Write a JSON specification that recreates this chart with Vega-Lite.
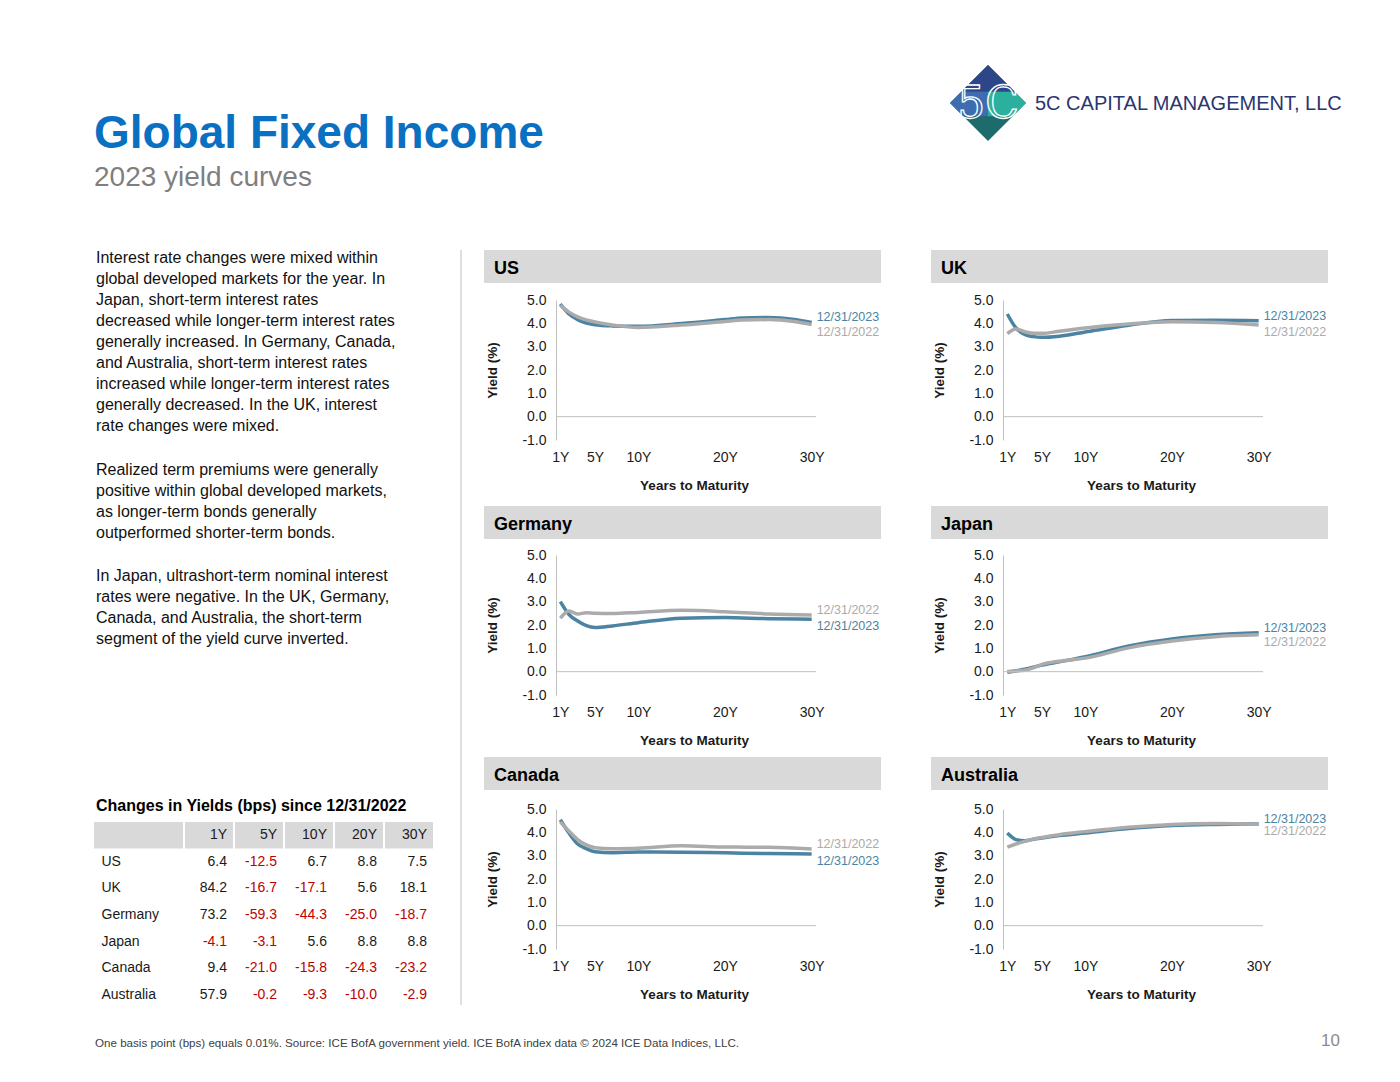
{
"$schema": "https://vega.github.io/schema/vega-lite/v6.json",
"background": "white",
"padding": {"left": 94, "top": 65, "right": 0, "bottom": 0},
"config": {
  "view": {"stroke": null},
  "font": "Liberation Sans",
  "title": {"font": "Liberation Sans", "subtitleFont": "Liberation Sans", "color": "#000000", "fontSize": 18, "fontWeight": "bold", "anchor": "start", "frame": "group", "offset": -28, "dx": 10},
  "axis": {"labelFont": "Liberation Sans", "titleFont": "Liberation Sans", "labelColor": "#1a1a1a", "titleColor": "#1a1a1a", "grid": false, "ticks": false, "labelFontSize": 14, "titleFontSize": 13.5, "titleFontWeight": "bold", "labelOverlap": false},
  "axisX": {"domain": false, "labelPadding": 10, "titlePadding": 14, "labelFlush": false, "titleX": 138},
  "axisY": {"domainColor": "#bfbfbf", "domainWidth": 1, "labelPadding": 10, "titlePadding": 22},
  "text": {"font": "Liberation Sans"}
},
"datasets": {
  "curves": [
    {"c":"US","d":"12/31/2023","m":1,"y":4.83},{"c":"US","d":"12/31/2023","m":2,"y":4.40},{"c":"US","d":"12/31/2023","m":3,"y":4.16},{"c":"US","d":"12/31/2023","m":4,"y":4.01},{"c":"US","d":"12/31/2023","m":5,"y":3.94},{"c":"US","d":"12/31/2023","m":7,"y":3.89},{"c":"US","d":"12/31/2023","m":10,"y":3.87},{"c":"US","d":"12/31/2023","m":15,"y":3.99},{"c":"US","d":"12/31/2023","m":20,"y":4.16},{"c":"US","d":"12/31/2023","m":22,"y":4.23},{"c":"US","d":"12/31/2023","m":25,"y":4.25},{"c":"US","d":"12/31/2023","m":28,"y":4.17},{"c":"US","d":"12/31/2023","m":30,"y":4.04},
    {"c":"US","d":"12/31/2022","m":1,"y":4.77},{"c":"US","d":"12/31/2022","m":2,"y":4.48},{"c":"US","d":"12/31/2022","m":3,"y":4.28},{"c":"US","d":"12/31/2022","m":4,"y":4.15},{"c":"US","d":"12/31/2022","m":5,"y":4.06},{"c":"US","d":"12/31/2022","m":7,"y":3.93},{"c":"US","d":"12/31/2022","m":10,"y":3.82},{"c":"US","d":"12/31/2022","m":15,"y":3.93},{"c":"US","d":"12/31/2022","m":20,"y":4.08},{"c":"US","d":"12/31/2022","m":22,"y":4.14},{"c":"US","d":"12/31/2022","m":25,"y":4.16},{"c":"US","d":"12/31/2022","m":28,"y":4.08},{"c":"US","d":"12/31/2022","m":30,"y":3.95},
    {"c":"UK","d":"12/31/2023","m":1,"y":4.40},{"c":"UK","d":"12/31/2023","m":2,"y":3.80},{"c":"UK","d":"12/31/2023","m":3,"y":3.52},{"c":"UK","d":"12/31/2023","m":4,"y":3.43},{"c":"UK","d":"12/31/2023","m":5,"y":3.40},{"c":"UK","d":"12/31/2023","m":7,"y":3.45},{"c":"UK","d":"12/31/2023","m":10,"y":3.63},{"c":"UK","d":"12/31/2023","m":15,"y":3.92},{"c":"UK","d":"12/31/2023","m":20,"y":4.12},{"c":"UK","d":"12/31/2023","m":25,"y":4.13},{"c":"UK","d":"12/31/2023","m":30,"y":4.11},
    {"c":"UK","d":"12/31/2022","m":1,"y":3.56},{"c":"UK","d":"12/31/2022","m":2,"y":3.76},{"c":"UK","d":"12/31/2022","m":3,"y":3.64},{"c":"UK","d":"12/31/2022","m":4,"y":3.58},{"c":"UK","d":"12/31/2022","m":5,"y":3.57},{"c":"UK","d":"12/31/2022","m":7,"y":3.66},{"c":"UK","d":"12/31/2022","m":10,"y":3.80},{"c":"UK","d":"12/31/2022","m":15,"y":3.97},{"c":"UK","d":"12/31/2022","m":20,"y":4.07},{"c":"UK","d":"12/31/2022","m":25,"y":4.04},{"c":"UK","d":"12/31/2022","m":30,"y":3.93},
    {"c":"Germany","d":"12/31/2023","m":1,"y":3.00},{"c":"Germany","d":"12/31/2023","m":2,"y":2.45},{"c":"Germany","d":"12/31/2023","m":3,"y":2.17},{"c":"Germany","d":"12/31/2023","m":4,"y":1.97},{"c":"Germany","d":"12/31/2023","m":5,"y":1.89},{"c":"Germany","d":"12/31/2023","m":7,"y":1.96},{"c":"Germany","d":"12/31/2023","m":10,"y":2.10},{"c":"Germany","d":"12/31/2023","m":15,"y":2.29},{"c":"Germany","d":"12/31/2023","m":20,"y":2.32},{"c":"Germany","d":"12/31/2023","m":25,"y":2.27},{"c":"Germany","d":"12/31/2023","m":30,"y":2.25},
    {"c":"Germany","d":"12/31/2022","m":1,"y":2.29},{"c":"Germany","d":"12/31/2022","m":2,"y":2.60},{"c":"Germany","d":"12/31/2022","m":3,"y":2.47},{"c":"Germany","d":"12/31/2022","m":4,"y":2.53},{"c":"Germany","d":"12/31/2022","m":5,"y":2.50},{"c":"Germany","d":"12/31/2022","m":7,"y":2.49},{"c":"Germany","d":"12/31/2022","m":10,"y":2.54},{"c":"Germany","d":"12/31/2022","m":15,"y":2.63},{"c":"Germany","d":"12/31/2022","m":20,"y":2.57},{"c":"Germany","d":"12/31/2022","m":25,"y":2.47},{"c":"Germany","d":"12/31/2022","m":30,"y":2.43},
    {"c":"Japan","d":"12/31/2023","m":1,"y":-0.03},{"c":"Japan","d":"12/31/2023","m":2,"y":0.04},{"c":"Japan","d":"12/31/2023","m":3,"y":0.10},{"c":"Japan","d":"12/31/2023","m":4,"y":0.19},{"c":"Japan","d":"12/31/2023","m":5,"y":0.28},{"c":"Japan","d":"12/31/2023","m":7,"y":0.42},{"c":"Japan","d":"12/31/2023","m":10,"y":0.64},{"c":"Japan","d":"12/31/2023","m":15,"y":1.10},{"c":"Japan","d":"12/31/2023","m":20,"y":1.40},{"c":"Japan","d":"12/31/2023","m":25,"y":1.58},{"c":"Japan","d":"12/31/2023","m":30,"y":1.67},
    {"c":"Japan","d":"12/31/2022","m":1,"y":0.01},{"c":"Japan","d":"12/31/2022","m":2,"y":0.03},{"c":"Japan","d":"12/31/2022","m":3,"y":0.06},{"c":"Japan","d":"12/31/2022","m":4,"y":0.16},{"c":"Japan","d":"12/31/2022","m":5,"y":0.31},{"c":"Japan","d":"12/31/2022","m":7,"y":0.45},{"c":"Japan","d":"12/31/2022","m":10,"y":0.58},{"c":"Japan","d":"12/31/2022","m":15,"y":1.02},{"c":"Japan","d":"12/31/2022","m":20,"y":1.31},{"c":"Japan","d":"12/31/2022","m":25,"y":1.50},{"c":"Japan","d":"12/31/2022","m":30,"y":1.58},
    {"c":"Canada","d":"12/31/2023","m":1,"y":4.54},{"c":"Canada","d":"12/31/2023","m":2,"y":3.97},{"c":"Canada","d":"12/31/2023","m":3,"y":3.50},{"c":"Canada","d":"12/31/2023","m":4,"y":3.30},{"c":"Canada","d":"12/31/2023","m":5,"y":3.17},{"c":"Canada","d":"12/31/2023","m":7,"y":3.13},{"c":"Canada","d":"12/31/2023","m":10,"y":3.16},{"c":"Canada","d":"12/31/2023","m":15,"y":3.15},{"c":"Canada","d":"12/31/2023","m":20,"y":3.12},{"c":"Canada","d":"12/31/2023","m":25,"y":3.09},{"c":"Canada","d":"12/31/2023","m":30,"y":3.07},
    {"c":"Canada","d":"12/31/2022","m":1,"y":4.45},{"c":"Canada","d":"12/31/2022","m":2,"y":4.05},{"c":"Canada","d":"12/31/2022","m":3,"y":3.69},{"c":"Canada","d":"12/31/2022","m":4,"y":3.46},{"c":"Canada","d":"12/31/2022","m":5,"y":3.34},{"c":"Canada","d":"12/31/2022","m":7,"y":3.30},{"c":"Canada","d":"12/31/2022","m":10,"y":3.32},{"c":"Canada","d":"12/31/2022","m":15,"y":3.42},{"c":"Canada","d":"12/31/2022","m":20,"y":3.37},{"c":"Canada","d":"12/31/2022","m":25,"y":3.36},{"c":"Canada","d":"12/31/2022","m":30,"y":3.29},
    {"c":"Australia","d":"12/31/2023","m":1,"y":3.97},{"c":"Australia","d":"12/31/2023","m":2,"y":3.69},{"c":"Australia","d":"12/31/2023","m":3,"y":3.64},{"c":"Australia","d":"12/31/2023","m":4,"y":3.70},{"c":"Australia","d":"12/31/2023","m":5,"y":3.76},{"c":"Australia","d":"12/31/2023","m":7,"y":3.86},{"c":"Australia","d":"12/31/2023","m":10,"y":3.97},{"c":"Australia","d":"12/31/2023","m":15,"y":4.16},{"c":"Australia","d":"12/31/2023","m":20,"y":4.29},{"c":"Australia","d":"12/31/2023","m":25,"y":4.34},{"c":"Australia","d":"12/31/2023","m":30,"y":4.36},
    {"c":"Australia","d":"12/31/2022","m":1,"y":3.37},{"c":"Australia","d":"12/31/2022","m":2,"y":3.50},{"c":"Australia","d":"12/31/2022","m":3,"y":3.61},{"c":"Australia","d":"12/31/2022","m":4,"y":3.71},{"c":"Australia","d":"12/31/2022","m":5,"y":3.78},{"c":"Australia","d":"12/31/2022","m":7,"y":3.90},{"c":"Australia","d":"12/31/2022","m":10,"y":4.03},{"c":"Australia","d":"12/31/2022","m":15,"y":4.22},{"c":"Australia","d":"12/31/2022","m":20,"y":4.34},{"c":"Australia","d":"12/31/2022","m":25,"y":4.38},{"c":"Australia","d":"12/31/2022","m":30,"y":4.35}
  ],
  "changes": [
    {"c":"US","k":"1Y","v":6.4},{"c":"US","k":"5Y","v":-12.5},{"c":"US","k":"10Y","v":6.7},{"c":"US","k":"20Y","v":8.8},{"c":"US","k":"30Y","v":7.5},
    {"c":"UK","k":"1Y","v":84.2},{"c":"UK","k":"5Y","v":-16.7},{"c":"UK","k":"10Y","v":-17.1},{"c":"UK","k":"20Y","v":5.6},{"c":"UK","k":"30Y","v":18.1},
    {"c":"Germany","k":"1Y","v":73.2},{"c":"Germany","k":"5Y","v":-59.3},{"c":"Germany","k":"10Y","v":-44.3},{"c":"Germany","k":"20Y","v":-25.0},{"c":"Germany","k":"30Y","v":-18.7},
    {"c":"Japan","k":"1Y","v":-4.1},{"c":"Japan","k":"5Y","v":-3.1},{"c":"Japan","k":"10Y","v":5.6},{"c":"Japan","k":"20Y","v":8.8},{"c":"Japan","k":"30Y","v":8.8},
    {"c":"Canada","k":"1Y","v":9.4},{"c":"Canada","k":"5Y","v":-21.0},{"c":"Canada","k":"10Y","v":-15.8},{"c":"Canada","k":"20Y","v":-24.3},{"c":"Canada","k":"30Y","v":-23.2},
    {"c":"Australia","k":"1Y","v":57.9},{"c":"Australia","k":"5Y","v":-0.2},{"c":"Australia","k":"10Y","v":-9.3},{"c":"Australia","k":"20Y","v":-10.0},{"c":"Australia","k":"30Y","v":-2.9}
  ]
},
"spacing": 24,
"vconcat": [
  {"spacing": 0, "hconcat": [
    {"width": 856, "height": 160, "data": {"values": []}, "mark": "point",
     "title": {"text": "Global Fixed Income", "subtitle": "2023 yield curves", "orient": "bottom", "anchor": "start", "offset": -113, "dx": 0, "fontSize": 46, "fontWeight": "bold", "color": "#0a70c2", "subtitleFontSize": 28, "subtitleColor": "#7f7f7f", "subtitlePadding": 6}},
    {"width": 76, "height": 76, "data": {"values": [{"n": "5C CAPITAL MANAGEMENT, LLC"}]},
     "layer": [
       {"mark": {"type": "point", "shape": "diamond", "size": 5776, "filled": true, "color": "#1d6b6a", "opacity": 1, "strokeWidth": 0}},
       {"mark": {"type": "point", "shape": "M-1,0L-0.7,-0.3L0,-0.3L0,0.35L-0.65,0.35Z", "size": 5776, "filled": true, "color": "#3d6db0", "opacity": 1, "strokeWidth": 0}},
       {"mark": {"type": "point", "shape": "M0,-0.3L0.7,-0.3L1,0L0.65,0.35L0,0.35Z", "size": 5776, "filled": true, "color": "#2bb09d", "opacity": 1, "strokeWidth": 0}},
       {"mark": {"type": "point", "shape": "M-0.7,-0.3L0,-1L0.7,-0.3Z", "size": 5776, "filled": true, "color": "#2c4687", "opacity": 1, "strokeWidth": 0}},
       {"mark": {"type": "text", "text": "5C", "font": "DejaVu Serif", "fontSize": 44, "fill": "transparent", "stroke": "white", "strokeWidth": 1.3, "baseline": "middle", "dy": 2}},
       {"mark": {"type": "text", "align": "left", "baseline": "middle", "dx": 47, "dy": 1, "fontSize": 20, "color": "#2b3570"}, "encoding": {"text": {"field": "n"}}}
     ]}
  ]},
  {"spacing": 0, "hconcat": [
    {"spacing": 0, "vconcat": [
      {"width": 339, "height": 212, "data": {"values": []}, "mark": "point",
       "title": {"text": ["Interest rate changes were mixed within", "global developed markets for the year. In", "Japan, short-term interest rates", "decreased while longer-term interest rates", "generally increased. In Germany, Canada,", "and Australia, short-term interest rates", "increased while longer-term interest rates", "generally decreased. In the UK, interest", "rate changes were mixed."], "orient": "bottom", "anchor": "start", "offset": -212, "dx": 2, "fontSize": 16, "fontWeight": "normal", "lineHeight": 21, "color": "#111111"}},
      {"width": 339, "height": 106, "data": {"values": []}, "mark": "point",
       "title": {"text": ["Realized term premiums were generally", "positive within global developed markets,", "as longer-term bonds generally", "outperformed shorter-term bonds."], "orient": "bottom", "anchor": "start", "offset": -106, "dx": 2, "fontSize": 16, "fontWeight": "normal", "lineHeight": 21, "color": "#111111"}},
      {"width": 339, "height": 223, "data": {"values": []}, "mark": "point",
       "title": {"text": ["In Japan, ultrashort-term nominal interest", "rates were negative. In the UK, Germany,", "Canada, and Australia, the short-term", "segment of the yield curve inverted."], "orient": "bottom", "anchor": "start", "offset": -223, "dx": 2, "fontSize": 16, "fontWeight": "normal", "lineHeight": 21, "color": "#111111"}},
      {"width": 339, "height": 31, "data": {"values": []}, "mark": "point",
       "title": {"text": "Changes in Yields (bps) since 12/31/2022", "orient": "bottom", "anchor": "start", "offset": -24, "dx": 2, "fontSize": 16, "fontWeight": "bold", "color": "#000000"}},
      {"spacing": 2, "hconcat": [
        {"width": 89, "height": 186, "data": {"values": [{"r": "hdr"}]},
         "mark": {"type": "rect", "color": "#d9d9d9"},
         "encoding": {"y": {"field": "r", "type": "nominal", "scale": {"domain": ["hdr", "US", "UK", "Germany", "Japan", "Canada", "Australia"], "paddingInner": 0, "paddingOuter": 0},
           "axis": {"title": null, "domain": false, "ticks": false, "labelPadding": -7, "labelAlign": "left", "labelExpr": "datum.value == 'hdr' ? '' : datum.value", "labelFontSize": 14, "labelColor": "#1a1a1a"}}}},
        {"width": 248, "height": 186,
         "layer": [
           {"data": {"values": [{"k": "1Y", "r": "hdr"}, {"k": "5Y", "r": "hdr"}, {"k": "10Y", "r": "hdr"}, {"k": "20Y", "r": "hdr"}, {"k": "30Y", "r": "hdr"}]},
            "layer": [
              {"mark": {"type": "rect", "color": "#d9d9d9"},
               "encoding": {"x": {"field": "k", "type": "nominal", "scale": {"domain": ["1Y", "5Y", "10Y", "20Y", "30Y"], "paddingInner": 0.04, "paddingOuter": 0}, "axis": null},
                            "y": {"field": "r", "type": "nominal", "scale": {"domain": ["hdr", "US", "UK", "Germany", "Japan", "Canada", "Australia"], "paddingInner": 0, "paddingOuter": 0}, "axis": null}}},
              {"mark": {"type": "text", "align": "right", "baseline": "middle", "dx": -6, "fontSize": 14, "color": "#1a1a1a"},
               "encoding": {"x": {"field": "k", "type": "nominal", "bandPosition": 1, "axis": null},
                            "y": {"field": "r", "type": "nominal", "axis": null},
                            "text": {"field": "k"}}}
            ]},
           {"data": {"name": "changes"},
            "transform": [{"calculate": "replace(format(datum.v, '.1f'), '\u2212', '-')", "as": "t"}],
            "mark": {"type": "text", "align": "right", "baseline": "middle", "dx": -6, "fontSize": 14},
            "encoding": {"x": {"field": "k", "type": "nominal", "bandPosition": 1, "axis": null},
                         "y": {"field": "c", "type": "nominal", "axis": null},
                         "text": {"field": "t"},
                         "color": {"condition": {"test": "datum.v < 0", "value": "#c00000"}, "value": "#1a1a1a"}}}
         ]}
      ]}
    ]},
    {"width": 27, "height": 1, "data": {"values": []}, "mark": "point"},
    {"width": 1, "height": 755, "data": {"values": [{}]}, "mark": {"type": "rule", "color": "#bfbfbf", "strokeWidth": 1}, "encoding": {"x": {"value": 0}}},
    {"width": 22, "height": 1, "data": {"values": []}, "mark": "point"},
    {"spacing": 14, "vconcat": [
      {"spacing": 50, "hconcat": [
        {"spacing": 10, "vconcat": [
          {"width": 397, "height": 33, "view": {"fill": "#d9d9d9", "stroke": null}, "data": {"values": []}, "mark": "point", "title": {"text": "US"}},
          {"spacing": 0, "hconcat": [
            {"width": 1, "height": 140, "data": {"values": []}, "mark": "point"},
            {"width": 260, "height": 140, "data": {"name": "curves"}, "transform": [{"filter": "datum.c == 'US'"}],
             "layer": [
               {"mark": {"type": "line", "strokeWidth": 3.5, "interpolate": "monotone"},
                "encoding": {"x": {"field": "m", "type": "quantitative", "scale": {"domain": [0.5, 30.5], "nice": false, "zero": false}, "axis": {"values": [1, 5, 10, 20, 30], "labelExpr": "datum.value + 'Y'", "title": "Years to Maturity", "labelOverlap": false}},
                             "y": {"field": "y", "type": "quantitative", "scale": {"domain": [-1, 5], "nice": false, "zero": false}, "axis": {"values": [-1, 0, 1, 2, 3, 4, 5], "labelExpr": "replace(format(datum.value, '.1f'), '\u2212', '-')", "title": "Yield (%)", "labelOverlap": false}},
                             "color": {"field": "d", "type": "nominal", "scale": {"domain": ["12/31/2023", "12/31/2022"], "range": ["#4b83a3", "#ababab"]}, "legend": null}}},
               {"data": {"values": [{}]}, "mark": {"type": "rule", "color": "#bfbfbf", "strokeWidth": 1}, "encoding": {"y": {"datum": 0, "type": "quantitative", "axis": {"values": [-1, 0, 1, 2, 3, 4, 5], "labelExpr": "replace(format(datum.value, '.1f'), '\u2212', '-')", "title": "Yield (%)", "labelOverlap": false}}}},
               {"transform": [{"filter": "datum.m == 30"}, {"joinaggregate": [{"op": "max", "field": "y", "as": "mx"}]}, {"filter": "datum.y == datum.mx"}],
                "mark": {"type": "text", "align": "left", "baseline": "middle", "dx": 5, "dy": -5, "fontSize": 12.5},
                "encoding": {"x": {"field": "m", "type": "quantitative", "axis": {"values": [1, 5, 10, 20, 30], "labelExpr": "datum.value + 'Y'", "title": "Years to Maturity", "labelOverlap": false}}, "y": {"field": "y", "type": "quantitative", "axis": {"values": [-1, 0, 1, 2, 3, 4, 5], "labelExpr": "replace(format(datum.value, '.1f'), '\u2212', '-')", "title": "Yield (%)", "labelOverlap": false}}, "text": {"field": "d"}, "color": {"field": "d", "type": "nominal", "legend": null}}},
               {"transform": [{"filter": "datum.m == 30"}, {"joinaggregate": [{"op": "max", "field": "y", "as": "mx"}]}, {"filter": "datum.y < datum.mx"}],
                "mark": {"type": "text", "align": "left", "baseline": "middle", "dx": 5, "dy": 7, "fontSize": 12.5},
                "encoding": {"x": {"field": "m", "type": "quantitative", "axis": {"values": [1, 5, 10, 20, 30], "labelExpr": "datum.value + 'Y'", "title": "Years to Maturity", "labelOverlap": false}}, "y": {"field": "y", "type": "quantitative", "axis": {"values": [-1, 0, 1, 2, 3, 4, 5], "labelExpr": "replace(format(datum.value, '.1f'), '\u2212', '-')", "title": "Yield (%)", "labelOverlap": false}}, "text": {"field": "d"}, "color": {"field": "d", "type": "nominal", "legend": null}}}
             ]}
          ]}
        ]},
        {"spacing": 10, "vconcat": [
          {"width": 397, "height": 33, "view": {"fill": "#d9d9d9", "stroke": null}, "data": {"values": []}, "mark": "point", "title": {"text": "UK"}},
          {"spacing": 0, "hconcat": [
            {"width": 1, "height": 140, "data": {"values": []}, "mark": "point"},
            {"width": 260, "height": 140, "data": {"name": "curves"}, "transform": [{"filter": "datum.c == 'UK'"}],
             "layer": [
               {"mark": {"type": "line", "strokeWidth": 3.5, "interpolate": "monotone"},
                "encoding": {"x": {"field": "m", "type": "quantitative", "scale": {"domain": [0.5, 30.5], "nice": false, "zero": false}, "axis": {"values": [1, 5, 10, 20, 30], "labelExpr": "datum.value + 'Y'", "title": "Years to Maturity", "labelOverlap": false}},
                             "y": {"field": "y", "type": "quantitative", "scale": {"domain": [-1, 5], "nice": false, "zero": false}, "axis": {"values": [-1, 0, 1, 2, 3, 4, 5], "labelExpr": "replace(format(datum.value, '.1f'), '\u2212', '-')", "title": "Yield (%)", "labelOverlap": false}},
                             "color": {"field": "d", "type": "nominal", "scale": {"domain": ["12/31/2023", "12/31/2022"], "range": ["#4b83a3", "#ababab"]}, "legend": null}}},
               {"data": {"values": [{}]}, "mark": {"type": "rule", "color": "#bfbfbf", "strokeWidth": 1}, "encoding": {"y": {"datum": 0, "type": "quantitative", "axis": {"values": [-1, 0, 1, 2, 3, 4, 5], "labelExpr": "replace(format(datum.value, '.1f'), '\u2212', '-')", "title": "Yield (%)", "labelOverlap": false}}}},
               {"transform": [{"filter": "datum.m == 30"}, {"joinaggregate": [{"op": "max", "field": "y", "as": "mx"}]}, {"filter": "datum.y == datum.mx"}],
                "mark": {"type": "text", "align": "left", "baseline": "middle", "dx": 5, "dy": -5, "fontSize": 12.5},
                "encoding": {"x": {"field": "m", "type": "quantitative", "axis": {"values": [1, 5, 10, 20, 30], "labelExpr": "datum.value + 'Y'", "title": "Years to Maturity", "labelOverlap": false}}, "y": {"field": "y", "type": "quantitative", "axis": {"values": [-1, 0, 1, 2, 3, 4, 5], "labelExpr": "replace(format(datum.value, '.1f'), '\u2212', '-')", "title": "Yield (%)", "labelOverlap": false}}, "text": {"field": "d"}, "color": {"field": "d", "type": "nominal", "legend": null}}},
               {"transform": [{"filter": "datum.m == 30"}, {"joinaggregate": [{"op": "max", "field": "y", "as": "mx"}]}, {"filter": "datum.y < datum.mx"}],
                "mark": {"type": "text", "align": "left", "baseline": "middle", "dx": 5, "dy": 7, "fontSize": 12.5},
                "encoding": {"x": {"field": "m", "type": "quantitative", "axis": {"values": [1, 5, 10, 20, 30], "labelExpr": "datum.value + 'Y'", "title": "Years to Maturity", "labelOverlap": false}}, "y": {"field": "y", "type": "quantitative", "axis": {"values": [-1, 0, 1, 2, 3, 4, 5], "labelExpr": "replace(format(datum.value, '.1f'), '\u2212', '-')", "title": "Yield (%)", "labelOverlap": false}}, "text": {"field": "d"}, "color": {"field": "d", "type": "nominal", "legend": null}}}
             ]}
          ]}
        ]}
      ]},
      {"spacing": 10, "vconcat": [
        {"spacing": 50, "hconcat": [
          {"spacing": 9, "vconcat": [
            {"width": 397, "height": 33, "view": {"fill": "#d9d9d9", "stroke": null}, "data": {"values": []}, "mark": "point", "title": {"text": "Germany"}},
            {"spacing": 0, "hconcat": [
              {"width": 1, "height": 140, "data": {"values": []}, "mark": "point"},
              {"width": 260, "height": 140, "data": {"name": "curves"}, "transform": [{"filter": "datum.c == 'Germany'"}],
               "layer": [
                 {"mark": {"type": "line", "strokeWidth": 3.5, "interpolate": "monotone"},
                  "encoding": {"x": {"field": "m", "type": "quantitative", "scale": {"domain": [0.5, 30.5], "nice": false, "zero": false}, "axis": {"values": [1, 5, 10, 20, 30], "labelExpr": "datum.value + 'Y'", "title": "Years to Maturity", "labelOverlap": false}},
                               "y": {"field": "y", "type": "quantitative", "scale": {"domain": [-1, 5], "nice": false, "zero": false}, "axis": {"values": [-1, 0, 1, 2, 3, 4, 5], "labelExpr": "replace(format(datum.value, '.1f'), '\u2212', '-')", "title": "Yield (%)", "labelOverlap": false}},
                               "color": {"field": "d", "type": "nominal", "scale": {"domain": ["12/31/2023", "12/31/2022"], "range": ["#4b83a3", "#ababab"]}, "legend": null}}},
                 {"data": {"values": [{}]}, "mark": {"type": "rule", "color": "#bfbfbf", "strokeWidth": 1}, "encoding": {"y": {"datum": 0, "type": "quantitative", "axis": {"values": [-1, 0, 1, 2, 3, 4, 5], "labelExpr": "replace(format(datum.value, '.1f'), '\u2212', '-')", "title": "Yield (%)", "labelOverlap": false}}}},
                 {"transform": [{"filter": "datum.m == 30"}, {"joinaggregate": [{"op": "max", "field": "y", "as": "mx"}]}, {"filter": "datum.y == datum.mx"}],
                  "mark": {"type": "text", "align": "left", "baseline": "middle", "dx": 5, "dy": -5, "fontSize": 12.5},
                  "encoding": {"x": {"field": "m", "type": "quantitative", "axis": {"values": [1, 5, 10, 20, 30], "labelExpr": "datum.value + 'Y'", "title": "Years to Maturity", "labelOverlap": false}}, "y": {"field": "y", "type": "quantitative", "axis": {"values": [-1, 0, 1, 2, 3, 4, 5], "labelExpr": "replace(format(datum.value, '.1f'), '\u2212', '-')", "title": "Yield (%)", "labelOverlap": false}}, "text": {"field": "d"}, "color": {"field": "d", "type": "nominal", "legend": null}}},
                 {"transform": [{"filter": "datum.m == 30"}, {"joinaggregate": [{"op": "max", "field": "y", "as": "mx"}]}, {"filter": "datum.y < datum.mx"}],
                  "mark": {"type": "text", "align": "left", "baseline": "middle", "dx": 5, "dy": 7, "fontSize": 12.5},
                  "encoding": {"x": {"field": "m", "type": "quantitative", "axis": {"values": [1, 5, 10, 20, 30], "labelExpr": "datum.value + 'Y'", "title": "Years to Maturity", "labelOverlap": false}}, "y": {"field": "y", "type": "quantitative", "axis": {"values": [-1, 0, 1, 2, 3, 4, 5], "labelExpr": "replace(format(datum.value, '.1f'), '\u2212', '-')", "title": "Yield (%)", "labelOverlap": false}}, "text": {"field": "d"}, "color": {"field": "d", "type": "nominal", "legend": null}}}
               ]}
            ]}
          ]},
          {"spacing": 9, "vconcat": [
            {"width": 397, "height": 33, "view": {"fill": "#d9d9d9", "stroke": null}, "data": {"values": []}, "mark": "point", "title": {"text": "Japan"}},
            {"spacing": 0, "hconcat": [
              {"width": 1, "height": 140, "data": {"values": []}, "mark": "point"},
              {"width": 260, "height": 140, "data": {"name": "curves"}, "transform": [{"filter": "datum.c == 'Japan'"}],
               "layer": [
                 {"mark": {"type": "line", "strokeWidth": 3.5, "interpolate": "monotone"},
                  "encoding": {"x": {"field": "m", "type": "quantitative", "scale": {"domain": [0.5, 30.5], "nice": false, "zero": false}, "axis": {"values": [1, 5, 10, 20, 30], "labelExpr": "datum.value + 'Y'", "title": "Years to Maturity", "labelOverlap": false}},
                               "y": {"field": "y", "type": "quantitative", "scale": {"domain": [-1, 5], "nice": false, "zero": false}, "axis": {"values": [-1, 0, 1, 2, 3, 4, 5], "labelExpr": "replace(format(datum.value, '.1f'), '\u2212', '-')", "title": "Yield (%)", "labelOverlap": false}},
                               "color": {"field": "d", "type": "nominal", "scale": {"domain": ["12/31/2023", "12/31/2022"], "range": ["#4b83a3", "#ababab"]}, "legend": null}}},
                 {"data": {"values": [{}]}, "mark": {"type": "rule", "color": "#bfbfbf", "strokeWidth": 1}, "encoding": {"y": {"datum": 0, "type": "quantitative", "axis": {"values": [-1, 0, 1, 2, 3, 4, 5], "labelExpr": "replace(format(datum.value, '.1f'), '\u2212', '-')", "title": "Yield (%)", "labelOverlap": false}}}},
                 {"transform": [{"filter": "datum.m == 30"}, {"joinaggregate": [{"op": "max", "field": "y", "as": "mx"}]}, {"filter": "datum.y == datum.mx"}],
                  "mark": {"type": "text", "align": "left", "baseline": "middle", "dx": 5, "dy": -5, "fontSize": 12.5},
                  "encoding": {"x": {"field": "m", "type": "quantitative", "axis": {"values": [1, 5, 10, 20, 30], "labelExpr": "datum.value + 'Y'", "title": "Years to Maturity", "labelOverlap": false}}, "y": {"field": "y", "type": "quantitative", "axis": {"values": [-1, 0, 1, 2, 3, 4, 5], "labelExpr": "replace(format(datum.value, '.1f'), '\u2212', '-')", "title": "Yield (%)", "labelOverlap": false}}, "text": {"field": "d"}, "color": {"field": "d", "type": "nominal", "legend": null}}},
                 {"transform": [{"filter": "datum.m == 30"}, {"joinaggregate": [{"op": "max", "field": "y", "as": "mx"}]}, {"filter": "datum.y < datum.mx"}],
                  "mark": {"type": "text", "align": "left", "baseline": "middle", "dx": 5, "dy": 7, "fontSize": 12.5},
                  "encoding": {"x": {"field": "m", "type": "quantitative", "axis": {"values": [1, 5, 10, 20, 30], "labelExpr": "datum.value + 'Y'", "title": "Years to Maturity", "labelOverlap": false}}, "y": {"field": "y", "type": "quantitative", "axis": {"values": [-1, 0, 1, 2, 3, 4, 5], "labelExpr": "replace(format(datum.value, '.1f'), '\u2212', '-')", "title": "Yield (%)", "labelOverlap": false}}, "text": {"field": "d"}, "color": {"field": "d", "type": "nominal", "legend": null}}}
               ]}
            ]}
          ]}
        ]},
        {"spacing": 50, "hconcat": [
          {"spacing": 12, "vconcat": [
            {"width": 397, "height": 33, "view": {"fill": "#d9d9d9", "stroke": null}, "data": {"values": []}, "mark": "point", "title": {"text": "Canada"}},
            {"spacing": 0, "hconcat": [
              {"width": 1, "height": 140, "data": {"values": []}, "mark": "point"},
              {"width": 260, "height": 140, "data": {"name": "curves"}, "transform": [{"filter": "datum.c == 'Canada'"}],
               "layer": [
                 {"mark": {"type": "line", "strokeWidth": 3.5, "interpolate": "monotone"},
                  "encoding": {"x": {"field": "m", "type": "quantitative", "scale": {"domain": [0.5, 30.5], "nice": false, "zero": false}, "axis": {"values": [1, 5, 10, 20, 30], "labelExpr": "datum.value + 'Y'", "title": "Years to Maturity", "labelOverlap": false}},
                               "y": {"field": "y", "type": "quantitative", "scale": {"domain": [-1, 5], "nice": false, "zero": false}, "axis": {"values": [-1, 0, 1, 2, 3, 4, 5], "labelExpr": "replace(format(datum.value, '.1f'), '\u2212', '-')", "title": "Yield (%)", "labelOverlap": false}},
                               "color": {"field": "d", "type": "nominal", "scale": {"domain": ["12/31/2023", "12/31/2022"], "range": ["#4b83a3", "#ababab"]}, "legend": null}}},
                 {"data": {"values": [{}]}, "mark": {"type": "rule", "color": "#bfbfbf", "strokeWidth": 1}, "encoding": {"y": {"datum": 0, "type": "quantitative", "axis": {"values": [-1, 0, 1, 2, 3, 4, 5], "labelExpr": "replace(format(datum.value, '.1f'), '\u2212', '-')", "title": "Yield (%)", "labelOverlap": false}}}},
                 {"transform": [{"filter": "datum.m == 30"}, {"joinaggregate": [{"op": "max", "field": "y", "as": "mx"}]}, {"filter": "datum.y == datum.mx"}],
                  "mark": {"type": "text", "align": "left", "baseline": "middle", "dx": 5, "dy": -5, "fontSize": 12.5},
                  "encoding": {"x": {"field": "m", "type": "quantitative", "axis": {"values": [1, 5, 10, 20, 30], "labelExpr": "datum.value + 'Y'", "title": "Years to Maturity", "labelOverlap": false}}, "y": {"field": "y", "type": "quantitative", "axis": {"values": [-1, 0, 1, 2, 3, 4, 5], "labelExpr": "replace(format(datum.value, '.1f'), '\u2212', '-')", "title": "Yield (%)", "labelOverlap": false}}, "text": {"field": "d"}, "color": {"field": "d", "type": "nominal", "legend": null}}},
                 {"transform": [{"filter": "datum.m == 30"}, {"joinaggregate": [{"op": "max", "field": "y", "as": "mx"}]}, {"filter": "datum.y < datum.mx"}],
                  "mark": {"type": "text", "align": "left", "baseline": "middle", "dx": 5, "dy": 7, "fontSize": 12.5},
                  "encoding": {"x": {"field": "m", "type": "quantitative", "axis": {"values": [1, 5, 10, 20, 30], "labelExpr": "datum.value + 'Y'", "title": "Years to Maturity", "labelOverlap": false}}, "y": {"field": "y", "type": "quantitative", "axis": {"values": [-1, 0, 1, 2, 3, 4, 5], "labelExpr": "replace(format(datum.value, '.1f'), '\u2212', '-')", "title": "Yield (%)", "labelOverlap": false}}, "text": {"field": "d"}, "color": {"field": "d", "type": "nominal", "legend": null}}}
               ]}
            ]}
          ]},
          {"spacing": 12, "vconcat": [
            {"width": 397, "height": 33, "view": {"fill": "#d9d9d9", "stroke": null}, "data": {"values": []}, "mark": "point", "title": {"text": "Australia"}},
            {"spacing": 0, "hconcat": [
              {"width": 1, "height": 140, "data": {"values": []}, "mark": "point"},
              {"width": 260, "height": 140, "data": {"name": "curves"}, "transform": [{"filter": "datum.c == 'Australia'"}],
               "layer": [
                 {"mark": {"type": "line", "strokeWidth": 3.5, "interpolate": "monotone"},
                  "encoding": {"x": {"field": "m", "type": "quantitative", "scale": {"domain": [0.5, 30.5], "nice": false, "zero": false}, "axis": {"values": [1, 5, 10, 20, 30], "labelExpr": "datum.value + 'Y'", "title": "Years to Maturity", "labelOverlap": false}},
                               "y": {"field": "y", "type": "quantitative", "scale": {"domain": [-1, 5], "nice": false, "zero": false}, "axis": {"values": [-1, 0, 1, 2, 3, 4, 5], "labelExpr": "replace(format(datum.value, '.1f'), '\u2212', '-')", "title": "Yield (%)", "labelOverlap": false}},
                               "color": {"field": "d", "type": "nominal", "scale": {"domain": ["12/31/2023", "12/31/2022"], "range": ["#4b83a3", "#ababab"]}, "legend": null}}},
                 {"data": {"values": [{}]}, "mark": {"type": "rule", "color": "#bfbfbf", "strokeWidth": 1}, "encoding": {"y": {"datum": 0, "type": "quantitative", "axis": {"values": [-1, 0, 1, 2, 3, 4, 5], "labelExpr": "replace(format(datum.value, '.1f'), '\u2212', '-')", "title": "Yield (%)", "labelOverlap": false}}}},
                 {"transform": [{"filter": "datum.m == 30"}, {"joinaggregate": [{"op": "max", "field": "y", "as": "mx"}]}, {"filter": "datum.y == datum.mx"}],
                  "mark": {"type": "text", "align": "left", "baseline": "middle", "dx": 5, "dy": -5, "fontSize": 12.5},
                  "encoding": {"x": {"field": "m", "type": "quantitative", "axis": {"values": [1, 5, 10, 20, 30], "labelExpr": "datum.value + 'Y'", "title": "Years to Maturity", "labelOverlap": false}}, "y": {"field": "y", "type": "quantitative", "axis": {"values": [-1, 0, 1, 2, 3, 4, 5], "labelExpr": "replace(format(datum.value, '.1f'), '\u2212', '-')", "title": "Yield (%)", "labelOverlap": false}}, "text": {"field": "d"}, "color": {"field": "d", "type": "nominal", "legend": null}}},
                 {"transform": [{"filter": "datum.m == 30"}, {"joinaggregate": [{"op": "max", "field": "y", "as": "mx"}]}, {"filter": "datum.y < datum.mx"}],
                  "mark": {"type": "text", "align": "left", "baseline": "middle", "dx": 5, "dy": 7, "fontSize": 12.5},
                  "encoding": {"x": {"field": "m", "type": "quantitative", "axis": {"values": [1, 5, 10, 20, 30], "labelExpr": "datum.value + 'Y'", "title": "Years to Maturity", "labelOverlap": false}}, "y": {"field": "y", "type": "quantitative", "axis": {"values": [-1, 0, 1, 2, 3, 4, 5], "labelExpr": "replace(format(datum.value, '.1f'), '\u2212', '-')", "title": "Yield (%)", "labelOverlap": false}}, "text": {"field": "d"}, "color": {"field": "d", "type": "nominal", "legend": null}}}
               ]}
            ]}
          ]}
        ]}
      ]}
    ]}
  ]},
  {"spacing": 0, "hconcat": [
    {"width": 1200, "height": 20, "data": {"values": []}, "mark": "point",
     "title": {"text": "One basis point (bps) equals 0.01%. Source: ICE BofA government yield. ICE BofA index data \u00a9 2024 ICE Data Indices, LLC.", "orient": "bottom", "anchor": "start", "offset": -15, "dx": 1, "fontSize": 11.6, "fontWeight": "normal", "color": "#404040"}},
    {"width": 46, "height": 20, "data": {"values": []}, "mark": "point",
     "title": {"text": "10", "orient": "bottom", "anchor": "end", "offset": -20, "dx": 0, "fontSize": 17, "fontWeight": "normal", "color": "#8c8c8c"}}
  ]}
]
}
